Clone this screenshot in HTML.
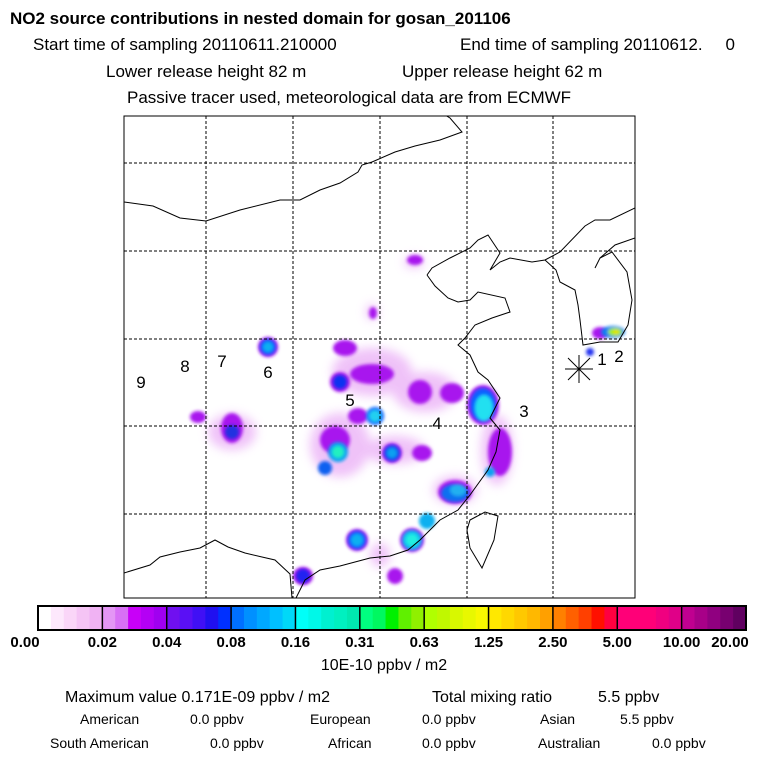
<!DOCTYPE html>
<html><head><meta charset="utf-8"><style>
body{margin:0;width:768px;height:768px;background:#fff;overflow:hidden;font-family:"Liberation Sans",sans-serif;}
svg{position:absolute;left:0;top:0}
</style></head><body>
<svg width="768" height="768">
<defs>
<filter id="bl" x="-50%" y="-50%" width="200%" height="200%"><feGaussianBlur stdDeviation="1.5"/></filter>
<filter id="bl2" x="-50%" y="-50%" width="200%" height="200%"><feGaussianBlur stdDeviation="5"/></filter>
<clipPath id="mapclip"><rect x="124" y="116" width="511" height="482"/></clipPath>
</defs>
<g font-size="17" text-anchor="middle" fill="#000">
<text x="10" y="24" text-anchor="start" font-weight="bold" font-size="17">NO2 source contributions in nested domain for gosan_201106</text>
<text x="33" y="50" text-anchor="start">Start time of sampling 20110611.210000</text>
<text x="460" y="50" text-anchor="start">End time of sampling 20110612.</text>
<text x="735" y="50" text-anchor="end">0</text>
<text x="106" y="77" text-anchor="start">Lower release height   82 m</text>
<text x="402" y="77" text-anchor="start">Upper release height   62 m</text>
<text x="127" y="103" text-anchor="start">Passive tracer used, meteorological data are from ECMWF</text>
</g>
<g clip-path="url(#mapclip)">
<g filter="url(#bl2)" fill="#eebcf8" opacity="0.9">
<ellipse cx="372" cy="372" rx="40" ry="24"/><ellipse cx="425" cy="392" rx="32" ry="20"/>
<ellipse cx="340" cy="445" rx="30" ry="32"/><ellipse cx="232" cy="432" rx="24" ry="18"/>
<ellipse cx="497" cy="450" rx="16" ry="35"/><ellipse cx="455" cy="490" rx="22" ry="14"/>
<ellipse cx="395" cy="450" rx="30" ry="14"/><ellipse cx="414" cy="262" rx="10" ry="6"/>
<ellipse cx="372" cy="312" rx="6" ry="8"/><ellipse cx="380" cy="555" rx="10" ry="12"/>
</g>
<g filter="url(#bl)" fill="#a818ee">
<ellipse cx="345" cy="348" rx="12" ry="8"/><ellipse cx="372" cy="374" rx="22" ry="10"/>
<ellipse cx="420" cy="392" rx="12" ry="12"/><ellipse cx="452" cy="393" rx="12" ry="10"/>
<ellipse cx="335" cy="440" rx="15" ry="14"/><ellipse cx="232" cy="428" rx="11" ry="15"/>
<ellipse cx="500" cy="452" rx="12" ry="24"/><ellipse cx="422" cy="453" rx="10" ry="8"/>
<ellipse cx="198" cy="417" rx="8" ry="6"/><ellipse cx="358" cy="416" rx="10" ry="8"/>
<ellipse cx="415" cy="260" rx="8" ry="5"/><ellipse cx="373" cy="313" rx="4" ry="6"/>
<ellipse cx="395" cy="576" rx="8" ry="8"/><ellipse cx="303" cy="576" rx="10" ry="9"/>
<ellipse cx="600" cy="333" rx="8" ry="6"/><ellipse cx="483" cy="405" rx="16" ry="20"/>
<ellipse cx="455" cy="492" rx="17" ry="12"/><circle cx="340" cy="382" r="10"/><circle cx="268" cy="347" r="10"/>
<circle cx="357" cy="540" r="11"/><circle cx="392" cy="453" r="10"/><circle cx="412" cy="540" r="12"/>
</g>
<g filter="url(#bl)">
<circle cx="268" cy="347" r="8" fill="#1060ff"/><circle cx="268" cy="347" r="5" fill="#10b0f0"/>
<circle cx="340" cy="382" r="7" fill="#1030f0"/>
<circle cx="375" cy="416" r="9" fill="#1060ff"/><circle cx="375" cy="416" r="6" fill="#20d0f0"/>
<circle cx="338" cy="452" r="10" fill="#10a0f0"/><circle cx="338" cy="452" r="6" fill="#20f0c0"/>
<circle cx="325" cy="468" r="7" fill="#1060f0"/>
<circle cx="392" cy="453" r="8" fill="#1050f0"/><circle cx="392" cy="453" r="5" fill="#10a0f0"/>
<circle cx="357" cy="540" r="9" fill="#1060ff"/><circle cx="357" cy="540" r="6" fill="#10b0f0"/>
<circle cx="303" cy="576" r="7" fill="#2020f0"/>
<circle cx="232" cy="432" r="7" fill="#2030e0"/>
<ellipse cx="483" cy="405" rx="13" ry="17" fill="#1060ff"/><ellipse cx="484" cy="408" rx="9" ry="13" fill="#20e0f0"/>
<ellipse cx="455" cy="493" rx="14" ry="9" fill="#1070f0"/><ellipse cx="458" cy="490" rx="8" ry="6" fill="#20b0f0"/>
<circle cx="427" cy="521" r="8" fill="#10b0f0"/><circle cx="412" cy="540" r="10" fill="#10c0f0"/><circle cx="412" cy="540" r="6" fill="#20f0e0"/>
<circle cx="490" cy="472" r="5" fill="#10a0f0"/>
<ellipse cx="613" cy="332" rx="12" ry="6" fill="#1080f0"/><ellipse cx="615" cy="332" rx="7" ry="4" fill="#a0f000"/><ellipse cx="616" cy="332" rx="3" ry="2" fill="#f0e000"/>
<circle cx="590" cy="352" r="4" fill="#2030f0"/>
</g>
</g>
<g fill="none" stroke="#000" stroke-width="1" clip-path="url(#mapclip)">
<polyline points="124,202 153,206 180,218 206,221 240,210 280,200 300,200 320,190 340,183 358,172 362,165 372,162 395,152 415,146 440,140 462,132 450,118 440,112"/>
<polyline points="427,275 432,268 450,258 470,248 478,240 488,235 500,253 490,270 500,262 510,258 532,262 545,260 560,252 585,226 595,220 610,220 635,208"/>
<polyline points="427,275 435,286 448,298 458,302 470,300 478,292 505,298 510,312 492,318 475,325 465,338 458,345 470,355 478,372 488,380 500,398 490,418 500,430 496,452 488,470 470,495 458,510 440,520 420,540 408,550 390,556 370,558 355,562 340,566 320,570 305,580 296,598"/>
<polyline points="545,260 556,270 560,282 575,290 578,305 580,320 583,345 600,342 618,342 628,325 632,300 627,272 612,252 600,258 595,268"/>
<polyline points="124,573 150,565 160,557 180,552 200,548 215,540 228,547 245,553 262,557 275,560 290,574 292,598"/>
<polygon points="470,520 485,512 498,516 494,540 482,568 470,548 467,530"/>
<polyline points="600,258 615,245 635,238"/>
</g>
<g stroke="#000" stroke-width="1" stroke-dasharray="3,2">
<line x1="206" y1="116" x2="206" y2="598"/><line x1="293" y1="116" x2="293" y2="598"/><line x1="380" y1="116" x2="380" y2="598"/><line x1="467" y1="116" x2="467" y2="598"/><line x1="553" y1="116" x2="553" y2="598"/>
<line x1="124" y1="163" x2="635" y2="163"/><line x1="124" y1="251" x2="635" y2="251"/><line x1="124" y1="339" x2="635" y2="339"/><line x1="124" y1="426" x2="635" y2="426"/><line x1="124" y1="514" x2="635" y2="514"/>
</g>
<rect x="124" y="116" width="511" height="482" fill="none" stroke="#000" stroke-width="1"/>
<g stroke="#000"><line x1="568" y1="358" x2="590" y2="380"/><line x1="568" y1="380" x2="590" y2="358"/><line x1="579" y1="355" x2="579" y2="383"/><line x1="565" y1="369" x2="593" y2="369"/></g>
<g font-size="17" text-anchor="middle">
<text x="141" y="388">9</text><text x="185" y="372">8</text><text x="222" y="367">7</text><text x="268" y="378">6</text><text x="350" y="406">5</text><text x="437" y="429">4</text><text x="524" y="417">3</text><text x="602" y="365">1</text><text x="619" y="362">2</text>
</g>
<g id="cbar"></g>
<g font-size="15" font-weight="bold" text-anchor="middle" id="cbl"></g>
<text x="384" y="670" font-size="16" text-anchor="middle">10E-10 ppbv / m2</text>
<g font-size="16">
<text x="65" y="702">Maximum value  0.171E-09 ppbv / m2</text>
<text x="432" y="702">Total mixing ratio</text><text x="598" y="702">5.5 ppbv</text>
</g>
<g font-size="14">
<text x="80" y="724">American</text><text x="190" y="724">0.0 ppbv</text><text x="310" y="724">European</text><text x="422" y="724">0.0 ppbv</text><text x="540" y="724">Asian</text><text x="620" y="724">5.5 ppbv</text>
<text x="50" y="748">South American</text><text x="210" y="748">0.0 ppbv</text><text x="328" y="748">African</text><text x="422" y="748">0.0 ppbv</text><text x="538" y="748">Australian</text><text x="652" y="748">0.0 ppbv</text>
</g>
</svg>
<script>
const tickLabels=["0.00","0.02","0.04","0.08","0.16","0.31","0.63","1.25","2.50","5.00","10.00","20.00"];
const segColors=[["#ffffff","#fde8fc","#fad6f8","#f5c4f5","#f0b2f3"],["#e496f5","#d870f5","#c800f8","#b400f5","#a000f0"],["#7010f0","#5a10f5","#4010f5","#2010f0","#0030ff"],["#0070ff","#0090ff","#00a8ff","#00c0ff","#00d8f8"],["#00fff8","#00f8e8","#00f0d0","#00f0c0","#00e8b0"],["#00ff80","#00f860","#00f000","#60f000","#90f000"],["#b0ff00","#c0f800","#d8f800","#e8f800","#f8f800"],["#ffe800","#ffd800","#ffc800","#ffb800","#ffa000"],["#ff8000","#ff6000","#ff4000","#ff1000","#ff0040"],["#ff0078","#ff0078","#ff0078","#f00080","#e00088"],["#c00090","#a80088","#900080","#780070","#600060"]];
const ns="http://www.w3.org/2000/svg";
const x0=38,x1=746,y0=606,h=24,sw=(x1-x0)/segColors.length;
const g=document.getElementById('cbar'),lg=document.getElementById('cbl');
segColors.forEach((cs,i)=>{cs.forEach((c,j)=>{const r=document.createElementNS(ns,'rect');


r.setAttribute('x',x0+i*sw+j*sw/cs.length);r.setAttribute('y',y0);r.setAttribute('width',sw/cs.length+0.5);r.setAttribute('height',h);r.setAttribute('fill',c);g.appendChild(r);});
const l=document.createElementNS(ns,'line');


l.setAttribute('x1',x0+i*sw);l.setAttribute('x2',x0+i*sw);l.setAttribute('y1',y0);l.setAttribute('y2',y0+h);l.setAttribute('stroke','#000');l.setAttribute('stroke-width','1.5');g.appendChild(l);});
const fr=document.createElementNS(ns,'rect');


fr.setAttribute('x',x0);fr.setAttribute('y',y0);fr.setAttribute('width',x1-x0);fr.setAttribute('height',h);fr.setAttribute('fill','none');fr.setAttribute('stroke','#000');fr.setAttribute('stroke-width','2');g.appendChild(fr);
tickLabels.forEach((t,i)=>{const tx=document.createElementNS(ns,'text');


let x=x0+i*sw;if(i==0)x=25;if(i==tickLabels.length-1)x=x1-16;
tx.setAttribute('x',x);tx.setAttribute('y',647);tx.textContent=t;lg.appendChild(tx);});
</script>
</body></html>
